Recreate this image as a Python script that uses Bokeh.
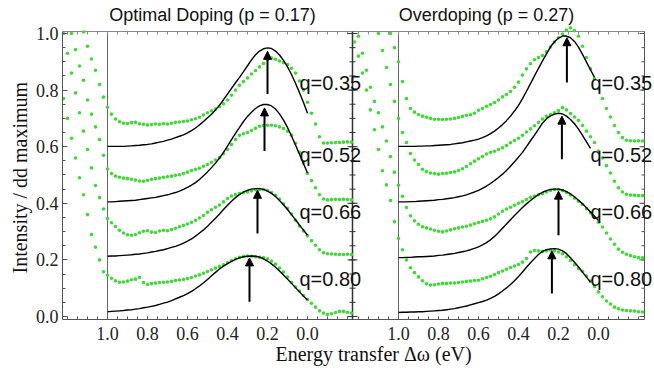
import numpy as np
from bokeh.plotting import figure
from bokeh.models import (Range1d, LinearAxis, FixedTicker, CustomJSTickFormatter,
                          PrintfTickFormatter, Label, Arrow, NormalHead, ColumnDataSource, Title)
from bokeh.embed import file_html
from bokeh.resources import INLINE

# ---------------- data ----------------
E_DATA = [1.22, 1.20, 1.18, 1.16, 1.14, 1.12, 1.10, 1.08, 1.06, 1.04, 1.02,
          1.00, 0.98, 0.96, 0.94, 0.92, 0.90, 0.88, 0.86, 0.84, 0.82,
          0.80, 0.78, 0.76, 0.74, 0.72, 0.70, 0.68, 0.66, 0.64, 0.62,
          0.60, 0.58, 0.56, 0.54, 0.52, 0.50, 0.48, 0.46, 0.44, 0.42,
          0.40, 0.38, 0.36, 0.34, 0.32, 0.30, 0.28, 0.26, 0.24, 0.22,
          0.20, 0.18, 0.16, 0.14, 0.12, 0.10, 0.08, 0.06, 0.04, 0.02,
          0.00, -0.02, -0.04, -0.06, -0.08, -0.10, -0.12, -0.14, -0.16, -0.18,
          -0.20, -0.22]
E_MODEL = E_DATA[11:62]

Q_LABELS = ["q=0.35", "q=0.52", "q=0.66", "q=0.80"]

# Optimal doping (p = 0.17) -- measured spectra
G_L35 = [None, None, None, None, None, 1.005, 0.955, 0.91, 0.87, 0.82, 0.775,
         0.739, 0.715, 0.698, 0.688, 0.683, 0.682, 0.685, 0.686, 0.681, 0.679,
         0.677, 0.678, 0.680, 0.679, 0.681, 0.680, 0.683, 0.686, 0.687, 0.689,
         0.691, 0.695, 0.699, 0.704, 0.712, 0.72, 0.727, 0.733, 0.741, 0.752,
         0.765, 0.782, 0.80, 0.817, 0.83, 0.843, 0.857, 0.869, 0.882, 0.894,
         0.908, 0.913, 0.909, 0.903, 0.897, 0.89, 0.877, 0.86, 0.832, 0.80,
         0.757, 0.718, 0.68, 0.635, 0.613, 0.613, 0.614, 0.615, 0.615, 0.616,
         0.617, 0.616]
G_L52 = [None, None, 1.0, 0.943, 0.885, 0.835, 0.765, 0.715, 0.67, 0.625, 0.57,
         0.521, 0.505, 0.496, 0.492, 0.489, 0.487, 0.485, 0.482, 0.479, 0.478,
         0.481, 0.485, 0.487, 0.489, 0.492, 0.494, 0.496, 0.499, 0.501, 0.505,
         0.51, 0.516, 0.52, 0.524, 0.531, 0.537, 0.545, 0.553, 0.562, 0.575,
         0.59, 0.608, 0.625, 0.64, 0.646, 0.65, 0.657, 0.665, 0.672, 0.675,
         0.676, 0.676, 0.674, 0.67, 0.664, 0.655, 0.64, 0.612, 0.58, 0.542,
         0.505, 0.48, 0.455, 0.43, 0.415, 0.412, 0.413, 0.414, 0.413, 0.414,
         0.413, 0.412]
G_L66 = [1.0, 0.93, 0.86, 0.79, 0.72, 0.655, 0.59, 0.525, 0.463, 0.42, 0.38,
         0.346, 0.331, 0.318, 0.305, 0.295, 0.289, 0.287, 0.29, 0.296, 0.301,
         0.303, 0.298, 0.297, 0.302, 0.305, 0.303, 0.307, 0.312, 0.317, 0.322,
         0.327, 0.333, 0.34, 0.348, 0.357, 0.368, 0.377, 0.386, 0.394, 0.405,
         0.417, 0.426, 0.431, 0.434, 0.437, 0.44, 0.444, 0.448, 0.449, 0.449,
         0.445, 0.438, 0.428, 0.415, 0.398, 0.382, 0.362, 0.34, 0.32, 0.302,
         0.285, 0.268, 0.252, 0.236, 0.225, 0.222, 0.221, 0.22, 0.219, 0.219,
         0.22, 0.219]
G_L80 = [0.77, 0.70, 0.63, 0.56, 0.49, 0.43, 0.36, 0.29, 0.245, 0.2, 0.158,
         0.146, 0.135, 0.126, 0.121, 0.122, 0.125, 0.13, 0.132, 0.138, 0.12,
         0.113, 0.116, 0.118, 0.12, 0.121, 0.122, 0.124, 0.127, 0.129, 0.131,
         0.134, 0.138, 0.143, 0.147, 0.153, 0.159, 0.165, 0.171, 0.177, 0.183,
         0.19, 0.198, 0.204, 0.209, 0.212, 0.214, 0.213, 0.211, 0.209, 0.208,
         0.204, 0.196, 0.185, 0.171, 0.157, 0.139, 0.12, 0.104, 0.09, 0.074,
         0.06, 0.047, 0.033, 0.02, 0.012, 0.007, 0.01, 0.014, 0.018, 0.018,
         0.015, 0.012]

# Overdoping (p = 0.27) -- measured spectra
G_R35 = [None, None, None, None, None, None, None, None, None, 1.0, 0.95,
         0.90, 0.83, 0.77, 0.735, 0.722, 0.714, 0.708, 0.704, 0.700, 0.697,
         0.697, 0.696, 0.697, 0.698, 0.700, 0.703, 0.707, 0.711, 0.713, 0.718,
         0.729, 0.735, 0.743, 0.749, 0.756, 0.765, 0.776, 0.784, 0.795, 0.81,
         0.828, 0.853, 0.875, 0.893, 0.907, 0.915, 0.922, 0.935, 0.952, 0.97,
         0.985, 0.998, 1.012, 1.02, 1.01, 0.99, 0.955, 0.915, 0.875, 0.84,
         0.805, 0.77, 0.735, 0.705, 0.675, 0.65, 0.632, 0.623, 0.621, 0.62,
         0.621, 0.62]
G_R52 = [None, None, None, None, None, None, 1.0, 0.94, 0.88, 0.82, 0.76,
         0.70, 0.65, 0.615, 0.576, 0.553, 0.537, 0.52, 0.512, 0.507, 0.505,
         0.503, 0.505, 0.506, 0.509, 0.511, 0.516, 0.522, 0.53, 0.54, 0.549,
         0.557, 0.565, 0.574, 0.58, 0.584, 0.59, 0.596, 0.604, 0.614, 0.622,
         0.63, 0.64, 0.652, 0.663, 0.674, 0.686, 0.698, 0.707, 0.714, 0.72,
         0.728, 0.738, 0.73, 0.717, 0.705, 0.693, 0.675, 0.655, 0.635, 0.615,
         0.585, 0.56, 0.533, 0.507, 0.478, 0.455, 0.44, 0.432, 0.429, 0.428,
         0.427, 0.427]
G_R66 = [None, 0.99, 0.93, 0.87, 0.81, 0.76, 0.72, 0.67, 0.62, 0.565, 0.51,
         0.464, 0.425, 0.385, 0.356, 0.338, 0.326, 0.317, 0.313, 0.309, 0.305,
         0.301, 0.299, 0.302, 0.306, 0.31, 0.313, 0.316, 0.319, 0.323, 0.328,
         0.332, 0.336, 0.34, 0.345, 0.352, 0.362, 0.372, 0.38, 0.386, 0.393,
         0.4, 0.406, 0.413, 0.421, 0.426, 0.43, 0.434, 0.44, 0.445, 0.449,
         0.449, 0.445, 0.438, 0.429, 0.418, 0.407, 0.396, 0.381, 0.366, 0.35,
         0.333, 0.316, 0.295, 0.274, 0.255, 0.238, 0.227, 0.22, 0.215, 0.211,
         0.208, 0.207]
G_R80 = [0.97, 0.92, 0.86, 0.80, 0.73, 0.66, 0.59, 0.515, 0.465, 0.41, 0.335,
         0.276, 0.236, 0.2, 0.172, 0.155, 0.14, 0.126, 0.116, 0.111, 0.112,
         0.115, 0.117, 0.117, 0.118, 0.118, 0.12, 0.122, 0.124, 0.125, 0.127,
         0.128, 0.133, 0.138, 0.142, 0.148, 0.155, 0.161, 0.167, 0.173, 0.178,
         0.184, 0.192, 0.205, 0.228, 0.233, 0.232, 0.23, 0.232, 0.235, 0.232,
         0.228, 0.222, 0.211, 0.198, 0.183, 0.17, 0.16, 0.143, 0.125, 0.106,
         0.087, 0.07, 0.055, 0.044, 0.033, 0.027, 0.023, 0.021, 0.02, 0.019,
         0.017, 0.016]

# model curves (E = 1.00 ... downwards)
B_L35 = [0.601, 0.601, 0.601, 0.601, 0.601, 0.602, 0.603, 0.604, 0.605, 0.607,
         0.608, 0.610, 0.613, 0.616, 0.619, 0.623, 0.627, 0.632, 0.637, 0.642,
         0.649, 0.657, 0.666, 0.677, 0.689, 0.702, 0.715, 0.73, 0.747, 0.766,
         0.786, 0.806, 0.826, 0.845, 0.865, 0.886, 0.907, 0.925, 0.938, 0.946,
         0.949, 0.947, 0.938, 0.924, 0.905, 0.882, 0.855, 0.824, 0.791, 0.756,
         0.718]
B_L52 = [0.405, 0.405, 0.406, 0.407, 0.408, 0.409, 0.41, 0.411, 0.413, 0.415,
         0.417, 0.419, 0.421, 0.424, 0.427, 0.43, 0.434, 0.438, 0.443, 0.449,
         0.456, 0.464, 0.473, 0.484, 0.497, 0.511, 0.526, 0.542, 0.56, 0.58,
         0.602, 0.625, 0.647, 0.668, 0.689, 0.707, 0.722, 0.735, 0.744, 0.749,
         0.749, 0.744, 0.733, 0.716, 0.694, 0.668, 0.638, 0.606, 0.573, 0.54,
         0.507]
B_L66 = [0.213, 0.214, 0.214, 0.215, 0.216, 0.217, 0.218, 0.22, 0.221, 0.223,
         0.225, 0.228, 0.23, 0.233, 0.236, 0.24, 0.244, 0.248, 0.253, 0.259,
         0.266, 0.274, 0.284, 0.295, 0.306, 0.319, 0.333, 0.347, 0.362, 0.378,
         0.393, 0.407, 0.42, 0.431, 0.44, 0.446, 0.45, 0.452, 0.452, 0.449,
         0.443, 0.435, 0.424, 0.41, 0.395, 0.378, 0.36, 0.342, 0.323, 0.305,
         0.287]
B_L80 = [0.017, 0.018, 0.019, 0.02, 0.021, 0.023, 0.024, 0.026, 0.028, 0.031,
         0.033, 0.036, 0.039, 0.043, 0.047, 0.051, 0.056, 0.062, 0.068, 0.074,
         0.081, 0.089, 0.098, 0.108, 0.119, 0.131, 0.144, 0.156, 0.168, 0.178,
         0.187, 0.195, 0.202, 0.207, 0.211, 0.213, 0.214, 0.213, 0.21, 0.204,
         0.196, 0.186, 0.174, 0.161, 0.147, 0.132, 0.117, 0.102, 0.087, 0.072,
         0.058]
B_R35 = [0.601, 0.601, 0.601, 0.601, 0.601, 0.602, 0.602, 0.603, 0.603, 0.604,
         0.605, 0.606, 0.607, 0.608, 0.61, 0.612, 0.614, 0.617, 0.62, 0.623,
         0.627, 0.632, 0.638, 0.646, 0.655, 0.666, 0.678, 0.692, 0.708, 0.726,
         0.746, 0.77, 0.796, 0.823, 0.85, 0.877, 0.903, 0.928, 0.953, 0.971,
         0.984, 0.991, 0.991, 0.985, 0.972, 0.952, 0.926, 0.899, 0.872, 0.845]
B_R52 = [0.405, 0.405, 0.405, 0.406, 0.406, 0.407, 0.408, 0.409, 0.41, 0.411,
         0.413, 0.414, 0.416, 0.418, 0.42, 0.423, 0.426, 0.43, 0.435, 0.44,
         0.446, 0.453, 0.461, 0.47, 0.48, 0.491, 0.503, 0.516, 0.531, 0.547,
         0.563, 0.58, 0.6, 0.621, 0.641, 0.662, 0.683, 0.699, 0.709, 0.715,
         0.718, 0.716, 0.708, 0.696, 0.681, 0.662, 0.64, 0.617, 0.594]
B_R66 = [0.208, 0.208, 0.209, 0.209, 0.21, 0.211, 0.211, 0.212, 0.213, 0.214,
         0.216, 0.217, 0.219, 0.221, 0.223, 0.226, 0.229, 0.232, 0.236, 0.241,
         0.246, 0.253, 0.261, 0.271, 0.283, 0.297, 0.312, 0.327, 0.342, 0.357,
         0.371, 0.385, 0.398, 0.41, 0.421, 0.431, 0.439, 0.445, 0.449, 0.45,
         0.45, 0.447, 0.441, 0.433, 0.423, 0.411, 0.398, 0.384, 0.369, 0.354,
         0.339]
B_R80 = [0.014, 0.015, 0.015, 0.016, 0.016, 0.017, 0.017, 0.018, 0.019, 0.02,
         0.021, 0.022, 0.024, 0.026, 0.028, 0.031, 0.034, 0.037, 0.041, 0.045,
         0.049, 0.053, 0.058, 0.064, 0.071, 0.08, 0.09, 0.101, 0.113, 0.126,
         0.141, 0.157, 0.174, 0.19, 0.205, 0.219, 0.23, 0.236, 0.239, 0.24,
         0.238, 0.232, 0.222, 0.208, 0.192, 0.175, 0.157, 0.139, 0.121]

# peak arrows: energy, tail, tip
ARR_L_E = [0.20, 0.215, 0.25, 0.29]
ARR_L_LO = [0.786, 0.585, 0.293, 0.052]
ARR_L_HI = [0.937, 0.737, 0.446, 0.207]
ARR_R_E = [0.158, 0.183, 0.20, 0.233]
ARR_R_LO = [0.827, 0.556, 0.287, 0.081]
ARR_R_HI = [0.985, 0.708, 0.443, 0.232]

X_TICKS = [1.0, 0.8, 0.6, 0.4, 0.2, 0.0]
Y_TICKS = [0.0, 0.2, 0.4, 0.6, 0.8, 1.0]

# ---------------- layout ----------------
GREEN = "#3cdc32"
AX = "#555555"
SERIF = "Liberation Serif"
SANS = "Liberation Sans"

PX_X = 1 / 200.0      # eV per pixel
PX_Y = 1 / 283.0      # intensity per pixel
L_RANGE = (1.225, -1.735)
R_RANGE = (2.68, -0.28)
SHIFT = R_RANGE[0] - L_RANGE[0]
DIVIDER = -0.225              # left/right panel boundary (left coords)
RIGHT_EDGE = -1.685           # right border of right panel (left coords)
Y_MIN, PANEL_TOP, Y_MAX = -0.0106, 1.007, 1.1095

p = figure(width=654, height=371, output_backend="svg", toolbar_location=None, title=None,
           x_range=Range1d(*L_RANGE), y_range=Range1d(Y_MIN, Y_MAX),
           x_axis_type=None, y_axis_type=None,
           min_border_left=62, min_border_right=0, min_border_top=2, min_border_bottom=52)
p.extra_x_ranges = {"r": Range1d(*R_RANGE)}
p.outline_line_color = None
p.background_fill_color = "white"
p.border_fill_color = "white"

xm_left = [round(1.2 - 0.05 * k, 3) for k in range(29)]
x_minor = xm_left + [round(v - SHIFT, 4) for v in xm_left]
x_major = X_TICKS + [round(t - SHIFT, 4) for t in X_TICKS]
y_minor = [round(0.05 * k, 3) for k in range(21)]

fmt = CustomJSTickFormatter(args=dict(shift=SHIFT, div=DIVIDER), code="""
let v = tick < div ? tick + shift : tick;
if (Math.abs(v) < 1e-6) { v = 0; }
return v.toFixed(1);
""")

xb = LinearAxis(ticker=FixedTicker(ticks=x_major, minor_ticks=x_minor), formatter=fmt,
                bounds=(RIGHT_EDGE, L_RANGE[0]))
xb.axis_line_color = AX
xb.major_tick_line_color = AX
xb.minor_tick_line_color = AX
xb.major_tick_out = 0
xb.minor_tick_out = 0
xb.major_tick_in = 3
xb.minor_tick_in = 3
xb.major_label_text_font = SERIF
xb.major_label_text_font_size = "18px"
xb.major_label_text_color = "#222222"
xb.major_label_standoff = 7
p.add_layout(xb, "below")

xtitle = Title(text="Energy transfer \u0394\u03c9 (eV)", align="left", offset=213,
               text_font=SERIF, text_font_size="20px", text_font_style="normal",
               text_color="#111111")
if "standoff" in xtitle.properties():
    try:
        xtitle.standoff = -3
    except Exception:
        xtitle.standoff = 0
p.add_layout(xtitle, "below")

yl = LinearAxis(ticker=FixedTicker(ticks=Y_TICKS, minor_ticks=y_minor),
                formatter=PrintfTickFormatter(format="%.1f"), bounds=(Y_MIN, PANEL_TOP))
yl.axis_line_color = AX
yl.major_tick_line_color = AX
yl.minor_tick_line_color = AX
yl.major_tick_out = 0
yl.minor_tick_out = 0
yl.major_tick_in = 5
yl.minor_tick_in = 3
yl.major_label_text_font = SERIF
yl.major_label_text_font_size = "18px"
yl.major_label_text_color = "#222222"
yl.major_label_standoff = 4
p.add_layout(yl, "left")

ytitle = Title(text="Intensity / dd maximum", align="left", offset=46,
               text_font=SERIF, text_font_size="20px", text_font_style="normal",
               text_color="#111111")
if "standoff" in ytitle.properties():
    ytitle.standoff = 4
p.add_layout(ytitle, "left")

# panel frame: top border, right border, divider, inner lines at 1.0 eV
p.segment(x0=[L_RANGE[0]], y0=[PANEL_TOP], x1=[RIGHT_EDGE], y1=[PANEL_TOP],
          line_color="#888888", line_width=1)
p.segment(x0=[RIGHT_EDGE], y0=[Y_MIN], x1=[RIGHT_EDGE], y1=[PANEL_TOP],
          line_color=AX, line_width=1)
p.segment(x0=[DIVIDER], y0=[Y_MIN], x1=[DIVIDER], y1=[PANEL_TOP],
          line_color="#333333", line_width=1.5)
p.segment(x0=[1.0], y0=[Y_MIN], x1=[1.0], y1=[PANEL_TOP], line_color="#666666", line_width=1)
p.segment(x0=[1.0], y0=[Y_MIN], x1=[1.0], y1=[PANEL_TOP], line_color="#666666", line_width=1,
          x_range_name="r")

# tick marks on the top border, right border and divider
top_ticks = x_major + x_minor
p.segment(x0=top_ticks, y0=[PANEL_TOP] * len(top_ticks), x1=top_ticks,
          y1=[PANEL_TOP - 3 * PX_Y] * len(top_ticks), line_color="#888888", line_width=1)
p.segment(x0=[RIGHT_EDGE] * len(Y_TICKS), y0=Y_TICKS, x1=[RIGHT_EDGE + 5 * PX_X] * len(Y_TICKS),
          y1=Y_TICKS, line_color=AX, line_width=1)
p.segment(x0=[RIGHT_EDGE] * len(y_minor), y0=y_minor, x1=[RIGHT_EDGE + 3 * PX_X] * len(y_minor),
          y1=y_minor, line_color=AX, line_width=1)
p.scatter(x=[DIVIDER] * len(Y_TICKS), y=Y_TICKS, marker="dash", size=10,
          line_color="#333333", line_width=1)
p.scatter(x=[DIVIDER] * len(y_minor), y=y_minor, marker="dash", size=6,
          line_color="#333333", line_width=1)

def arr(v):
    return np.array(v, dtype=float)

for g in (G_L35, G_L52, G_L66, G_L80):
    p.scatter(E_DATA, arr(g), size=3.6, fill_color=GREEN, line_color=None)
for g in (G_R35, G_R52, G_R66, G_R80):
    p.scatter(E_DATA, arr(g), size=3.6, fill_color=GREEN, line_color=None, x_range_name="r")

for b in (B_L35, B_L52, B_L66, B_L80):
    p.line(E_MODEL[:len(b)], b, line_color="black", line_width=1.4)
for b in (B_R35, B_R52, B_R66, B_R80):
    p.line(E_MODEL[:len(b)], b, line_color="black", line_width=1.4, x_range_name="r")

src_l = ColumnDataSource(dict(x=ARR_L_E, y0=ARR_L_LO, y1=ARR_L_HI))
src_r = ColumnDataSource(dict(x=ARR_R_E, y0=ARR_R_LO, y1=ARR_R_HI))
p.add_layout(Arrow(end=NormalHead(size=8, fill_color="black", line_color="black", line_width=1),
                   source=src_l, x_start="x", y_start="y0", x_end="x", y_end="y1",
                   line_color="black", line_width=2))
p.add_layout(Arrow(end=NormalHead(size=8, fill_color="black", line_color="black", line_width=1),
                   source=src_r, x_start="x", y_start="y0", x_end="x", y_end="y1",
                   line_color="black", line_width=2, x_range_name="r"))

# q labels
Q_Y = [0.825, 0.572, 0.368, 0.133]
for txt, y in zip(Q_LABELS, Q_Y):
    p.add_layout(Label(x=0.04, y=y, text=txt, text_font=SANS, text_font_size="20px",
                       text_align="left", text_baseline="middle", text_color="#111111"))
    p.add_layout(Label(x=0.04, y=y, text=txt, text_font=SANS, text_font_size="20px",
                       text_align="left", text_baseline="middle", text_color="#111111",
                       x_range_name="r"))

# panel titles
p.add_layout(Label(x=0.475, y=1.064, text="Optimal Doping (p = 0.17)", text_font=SANS,
                   text_font_size="18px", text_align="center", text_baseline="middle",
                   text_color="#111111"))
p.add_layout(Label(x=0.56, y=1.064, text="Overdoping (p = 0.27)", text_font=SANS,
                   text_font_size="18px", text_align="center", text_baseline="middle",
                   text_color="#111111", x_range_name="r"))

open("out.html", "w").write(file_html(p, INLINE))
